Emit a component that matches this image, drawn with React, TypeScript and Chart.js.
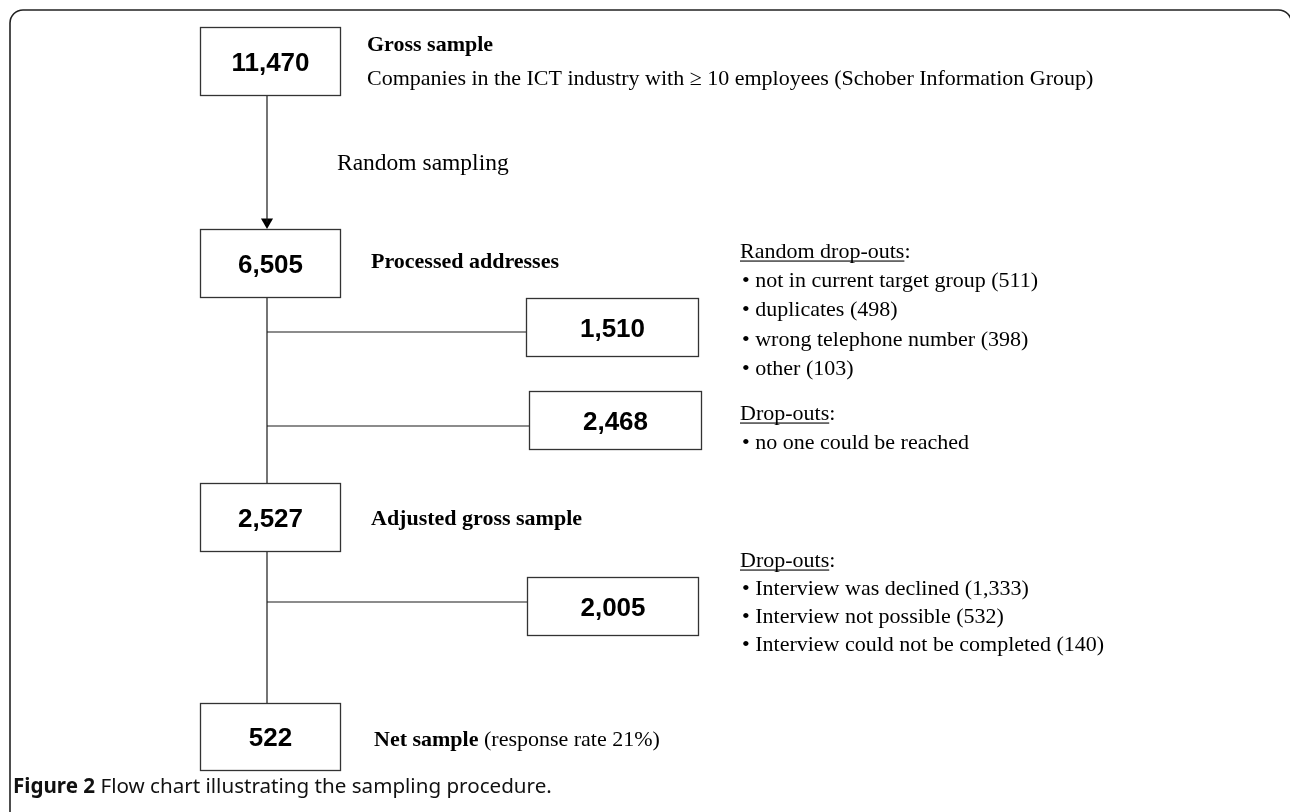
import React, { useEffect, useRef } from "react";
import { Chart, registerables } from "chart.js";

Chart.register(...registerables);

// ---------------- data ----------------
const mainStages = ["Gross sample", "Processed addresses", "Adjusted gross sample", "Net sample"];
const mainCounts = [11470, 6505, 2527, 522];
const dropCounts = [1510, 2468, 2005];
const grossNote = "Companies in the ICT industry with \u2265 10 employees (Schober Information Group)";
const samplingStep = "Random sampling";
const netNote = " (response rate 21%)";
const dropTitles = ["Random drop-outs", "Drop-outs", "Drop-outs"];
const dropReasons = [
  ["not in current target group (511)", "duplicates (498)", "wrong telephone number (398)", "other (103)"],
  ["no one could be reached"],
  ["Interview was declined (1,333)", "Interview not possible (532)", "Interview could not be completed (140)"],
];
const captionBold = "Figure 2";
const captionText = " Flow chart illustrating the sampling procedure.";

// ---------------- layout (in the hidden linear scales' units) ----------------
const W = 1290;
const H = 812;
const frameLeft = 10;
const frameTop = 10;
const frameRight = 1291.5;
const mainBoxX = [200, 340];
const mainBoxY = [
  [27, 95],
  [229, 297],
  [483, 551],
  [703, 770],
];
const dropBoxX = [
  [526, 698],
  [529, 701],
  [527, 698],
];
const dropBoxY = [
  [298, 356],
  [391, 449],
  [577, 635],
];
const spineX = 267;
const branchY = [332, 426, 602];
const arrowSize = 7;
const stageLabelX = [367, 371, 371, 374];
const stageBaseY = [51, 268, 525, 746];
const grossNoteBaseY = 85;
const samplingX = 337;
const samplingBaseY = 170;
const listX = 740;
const listTitleBaseY = [258, 420, 567];
const listStep = [29.2, 29, 28];
const captionX = 13;
const captionBaseY = 793;

const numFont = 26;
const serifFont = 22;
const samplingFont = 23.5;
const capFont = 20.6;

const fmt = (n: number) => n.toLocaleString("en-US");

const flowPlugin = {
  id: "flowPlugin",
  afterDatasetsDraw(chart: any) {
    const ctx: CanvasRenderingContext2D = chart.ctx;
    const X = (v: number) => chart.scales.x.getPixelForValue(v);
    const Y = (v: number) => chart.scales.y.getPixelForValue(v);
    ctx.save();

    // outer frame
    ctx.strokeStyle = "#222";
    ctx.lineWidth = 1.6;
    const r = 13;
    ctx.beginPath();
    ctx.moveTo(X(frameLeft), Y(H + 5));
    ctx.lineTo(X(frameLeft), Y(frameTop + r));
    ctx.arcTo(X(frameLeft), Y(frameTop), X(frameLeft + r), Y(frameTop), r);
    ctx.lineTo(X(frameRight - r), Y(frameTop));
    ctx.arcTo(X(frameRight), Y(frameTop), X(frameRight), Y(frameTop + r), r);
    ctx.lineTo(X(frameRight), Y(H + 5));
    ctx.stroke();

    // boxes
    const boxes: { n: number; x: number[]; y: number[] }[] = [];
    mainCounts.forEach((n, i) => boxes.push({ n, x: mainBoxX, y: mainBoxY[i] }));
    dropCounts.forEach((n, i) => boxes.push({ n, x: dropBoxX[i], y: dropBoxY[i] }));
    boxes.forEach((b) => {
      const x0 = Math.round(X(b.x[0])) + 0.5;
      const x1 = Math.round(X(b.x[1])) + 0.5;
      const y0 = Math.round(Y(b.y[0])) + 0.5;
      const y1 = Math.round(Y(b.y[1])) + 0.5;
      ctx.fillStyle = "#fff";
      ctx.fillRect(x0, y0, x1 - x0, y1 - y0);
      ctx.strokeStyle = "#333";
      ctx.lineWidth = 1.3;
      ctx.strokeRect(x0, y0, x1 - x0, y1 - y0);
      ctx.fillStyle = "#000";
      ctx.font = `bold ${numFont}px "Liberation Sans", Arial, sans-serif`;
      ctx.textAlign = "center";
      ctx.textBaseline = "alphabetic";
      const cy = (y0 + y1) / 2 + numFont * 0.716 / 2;
      ctx.fillText(fmt(b.n), (x0 + x1) / 2, cy);
    });

    // stage labels
    ctx.textAlign = "left";
    ctx.fillStyle = "#000";
    const boldSerif = `bold ${serifFont}px "Liberation Serif", "Times New Roman", serif`;
    const serif = `${serifFont}px "Liberation Serif", "Times New Roman", serif`;
    mainStages.forEach((s, i) => {
      ctx.font = boldSerif;
      ctx.fillText(s, X(stageLabelX[i]), Y(stageBaseY[i]));
      if (i === mainStages.length - 1) {
        const w = ctx.measureText(s).width;
        ctx.font = serif;
        ctx.fillText(netNote, X(stageLabelX[i]) + w, Y(stageBaseY[i]));
      }
    });
    ctx.font = serif;
    ctx.fillText(grossNote, X(stageLabelX[0]), Y(grossNoteBaseY));
    ctx.font = `${samplingFont}px "Liberation Serif", "Times New Roman", serif`;
    ctx.fillText(samplingStep, X(samplingX), Y(samplingBaseY));

    // drop-out lists
    dropTitles.forEach((t, i) => {
      ctx.font = serif;
      const bx = X(listX);
      const by = Y(listTitleBaseY[i]);
      ctx.fillText(t + ":", bx, by);
      const tw = ctx.measureText(t).width;
      ctx.fillRect(bx, by + 2.5, tw, 1.1);
      dropReasons[i].forEach((reason, j) => {
        ctx.fillText("\u2022 " + reason, bx + 2, Y(listTitleBaseY[i] + listStep[i] * (j + 1)));
      });
    });

    // caption
    ctx.font = `bold ${capFont}px "Noto Sans", "Open Sans", sans-serif`;
    ctx.fillStyle = "#111";
    ctx.fillText(captionBold, X(captionX), Y(captionBaseY));
    const cw = ctx.measureText(captionBold).width;
    ctx.font = `${capFont}px "Noto Sans", "Open Sans", sans-serif`;
    ctx.fillText(captionText, X(captionX) + cw, Y(captionBaseY));

    ctx.restore();
  },
};

export default function App() {
  const ref = useRef<HTMLCanvasElement | null>(null);
  useEffect(() => {
    if (!ref.current) return;
    const seg = (a: number[], b: number[]) => ({
      data: [
        { x: a[0], y: a[1] },
        { x: b[0], y: b[1] },
      ],
      showLine: true,
      borderColor: "#1a1a1a",
      borderWidth: 1.2,
      pointRadius: 0,
      pointHoverRadius: 0,
    });
    const arrowTip = mainBoxY[1][0];
    const datasets: any[] = [
      seg([spineX, mainBoxY[0][1]], [spineX, arrowTip - arrowSize]),
      seg([spineX, mainBoxY[1][1]], [spineX, mainBoxY[2][0]]),
      seg([spineX, mainBoxY[2][1]], [spineX, mainBoxY[3][0]]),
      ...branchY.map((y, i) => seg([spineX, y], [dropBoxX[i][0], y])),
      {
        data: [{ x: spineX, y: arrowTip - arrowSize }],
        pointStyle: "triangle",
        rotation: 180,
        pointRadius: arrowSize,
        pointHoverRadius: arrowSize,
        backgroundColor: "#000",
        borderColor: "#000",
        borderWidth: 0,
        showLine: false,
      },
    ];
    const chart = new Chart(ref.current, {
      type: "scatter",
      data: { datasets },
      options: {
        animation: false,
        responsive: false,
        maintainAspectRatio: false,
        events: [],
        layout: { padding: 0, autoPadding: false },
        scales: {
          x: { type: "linear", min: 0, max: W, display: false },
          y: { type: "linear", min: 0, max: H, reverse: true, display: false },
        },
        plugins: { legend: { display: false }, tooltip: { enabled: false } },
      },
      plugins: [flowPlugin],
    });
    return () => chart.destroy();
  }, []);
  return (
    <div style={{ position: "absolute", left: 0, top: 0, width: W, height: H, background: "#fff", overflow: "hidden" }}>
      <canvas ref={ref} width={W} height={H} style={{ display: "block" }} />
    </div>
  );
}
